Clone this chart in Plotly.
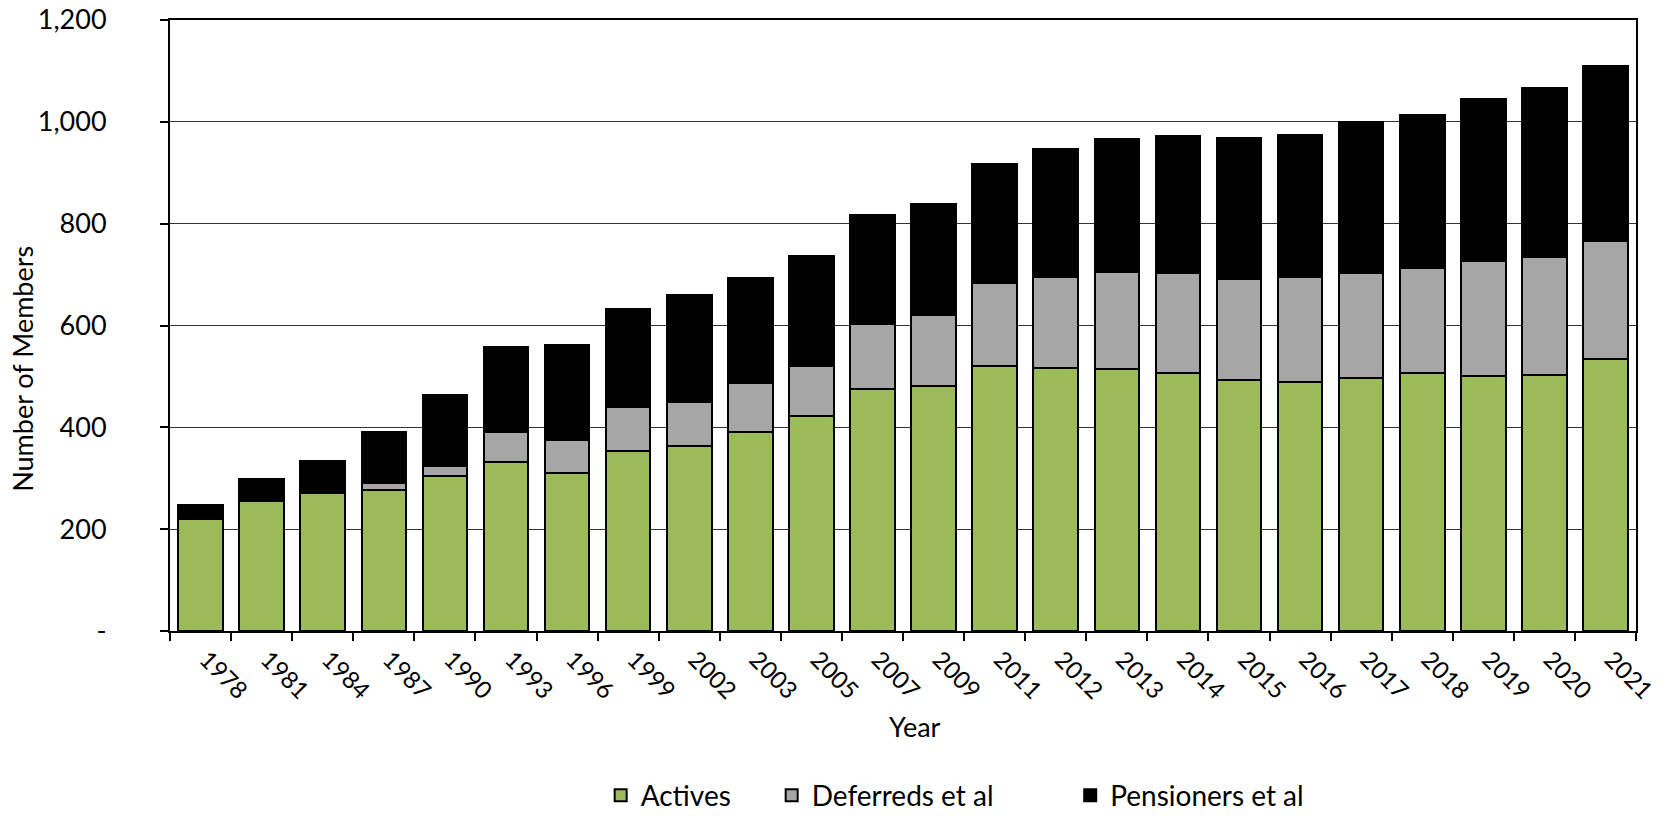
import plotly.graph_objects as go

years = ["1978", "1981", "1984", "1987", "1990", "1993", "1996", "1999", "2002", "2003",
         "2005", "2007", "2009", "2011", "2012", "2013", "2014", "2015", "2016", "2017",
         "2018", "2019", "2020", "2021"]
actives = [219, 256, 272, 277, 304, 332, 310, 354, 363, 391, 422, 475, 481, 520, 517,
           514, 507, 493, 490, 496, 506, 500, 503, 534]
deferreds = [0, 0, 0, 14, 21, 58, 65, 85, 86, 96, 99, 128, 139, 163, 178, 192, 197, 199,
             205, 207, 206, 226, 232, 231]
pensioners = [29, 43, 62, 100, 139, 167, 187, 194, 211, 207, 215, 215, 218, 235, 252, 260,
              268, 277, 280, 296, 302, 318, 332, 344]

y_tickvals = [0, 200, 400, 600, 800, 1000, 1200]
y_ticktext = ["-", "200", "400", "600", "800", "1,000", "1,200"]

NB = "\u00a0"
FONT = "Lato"
fig = go.Figure()
series = [("Actives", NB * 5, actives, "#9BBB59"),
          ("Deferreds et al", NB * 10, deferreds, "#A6A6A6"),
          ("Pensioners et al", "", pensioners, "#000000")]
for name, pad, vals, col in series:
    fig.add_trace(go.Bar(x=years, y=vals, name=name + pad,
                         marker=dict(color=col, line=dict(color="black", width=2))))

fig.update_layout(
    barmode="stack", bargap=0.27,
    width=1669, height=816,
    margin=dict(l=170, r=33, t=20, b=185, autoexpand=False),
    paper_bgcolor="white", plot_bgcolor="white",
    font=dict(family=FONT, size=27, color="black"),
    showlegend=True,
    legend=dict(orientation="h", xref="container", yref="container",
                x=0.572, xanchor="center", y=0.025, yanchor="middle",
                font=dict(size=28), traceorder="normal", itemsizing="constant"),
    xaxis=dict(type="category", tickangle=45, tickson="boundaries", ticks="outside",
               ticklen=8, tickwidth=2, tickcolor="black", showline=True, linewidth=2,
               linecolor="black", mirror=True, showgrid=False, automargin=False,
               ticklabelstandoff=3, ticklabelshift=6, tickfont=dict(size=24)),
    yaxis=dict(range=[0, 1200], tickvals=y_tickvals, ticktext=y_ticktext, ticks="outside",
               ticklen=8, tickwidth=2, tickcolor="black", showline=True, linewidth=2,
               linecolor="black", mirror=True, showgrid=True, gridcolor="#333333",
               gridwidth=1, ticklabelstandoff=48, automargin=False,
               tickfont=dict(size=27)),
    annotations=[
        dict(text="Number of Members", xref="paper", yref="paper", x=-0.1003, y=0.429,
             xanchor="center", yanchor="middle", textangle=-90, showarrow=False,
             font=dict(size=27)),
        dict(text="Year", xref="paper", yref="paper", x=0.508, y=-0.157,
             xanchor="center", yanchor="middle", showarrow=False, font=dict(size=27)),
    ],
)
fig.write_html("out.html")
